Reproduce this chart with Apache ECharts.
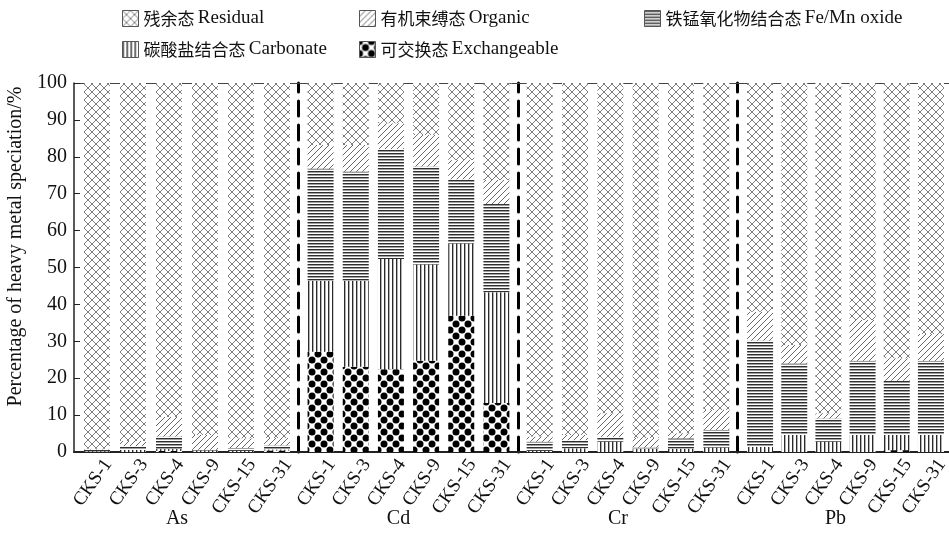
<!DOCTYPE html>
<html>
<head>
<meta charset="utf-8">
<script src="https://cdn.jsdelivr.net/npm/echarts@6/dist/echarts.min.js"></script>
<style>
  html, body { margin: 0; padding: 0; background: #fff; }
  #chart { width: 949px; height: 533px; }
</style>
</head>
<body>
<div id="chart"></div>
<script>
// Samples and metals
const samples = ['CKS-1', 'CKS-3', 'CKS-4', 'CKS-9', 'CKS-15', 'CKS-31'];
const metals = ['As', 'Cd', 'Cr', 'Pb'];
const yTicks = [0, 10, 20, 30, 40, 50, 60, 70, 80, 90, 100];

// Fraction shares (%), six samples per metal in the order As, Cd, Cr, Pb
const exchangeable = [
  0, 0, 0.3, 0, 0, 0.4,
  27.2, 23.1, 22.4, 24.7, 36.9, 13.3,
  0, 0, 0, 0, 0, 0,
  0, 0, 0, 0, 0.5, 0
];
const carbonate = [
  0.2, 0.6, 0.5, 0.4, 0.3, 0.3,
  19.2, 23.3, 29.9, 26.1, 19.6, 30.0,
  0.3, 1.0, 2.8, 0.9, 0.9, 1.2,
  1.4, 4.6, 2.8, 4.6, 4.1, 4.6
];
const feMnOxide = [
  0.5, 1.0, 3.4, 0.2, 0.8, 1.1,
  30.4, 29.6, 29.8, 26.6, 17.4, 23.9,
  2.5, 2.2, 1.3, 0.3, 2.8, 4.8,
  28.8, 19.4, 6.3, 20.1, 14.7, 20.1
];
const organic = [
  0.2, 1.4, 5.3, 4.0, 2.6, 2.0,
  6.4, 7.2, 7.0, 8.5, 5.2, 6.5,
  1.4, 1.4, 6.4, 2.6, 1.4, 5.4,
  7.8, 5.0, 1.4, 11.1, 6.1, 7.3
];
const residual = [
  99.1, 97.0, 90.5, 95.4, 96.3, 96.2,
  16.8, 16.8, 10.9, 14.1, 20.9, 26.3,
  95.8, 95.4, 89.5, 96.2, 94.9, 88.6,
  62.0, 71.0, 89.5, 64.2, 74.6, 68.0
];

const SERIF = '"Liberation Serif", "Times New Roman", "Noto Sans CJK SC", serif';
const CJK = '"Noto Sans CJK SC", "Liberation Serif", sans-serif';

// Fill patterns
function tile(w, h, draw) {
  const c = document.createElement('canvas');
  c.width = w; c.height = h;
  const g = c.getContext('2d');
  g.fillStyle = '#fff';
  g.fillRect(0, 0, w, h);
  draw(g);
  return { image: c, repeat: 'repeat' };
}
const patResidual = tile(8, 8, g => {
  g.strokeStyle = '#7d7d7d'; g.lineWidth = 1;
  g.beginPath();
  g.moveTo(0, 0); g.lineTo(8, 8);
  g.moveTo(8, 0); g.lineTo(0, 8);
  g.stroke();
});
const patOrganic = tile(6, 6, g => {
  g.strokeStyle = '#6a6a6a'; g.lineWidth = 1;
  g.beginPath();
  g.moveTo(0, 6); g.lineTo(6, 0);
  g.moveTo(-1, 1); g.lineTo(1, -1);
  g.moveTo(5, 7); g.lineTo(7, 5);
  g.stroke();
});
const patFeMn = tile(4, 3, g => {
  g.fillStyle = '#2f2f2f'; g.fillRect(0, 0, 4, 1);
  g.fillStyle = '#a0a0a0'; g.fillRect(0, 1, 4, 1);
});
const patCarbonate = tile(4, 4, g => {
  g.fillStyle = '#2a2a2a'; g.fillRect(0, 0, 1, 4);
  g.fillStyle = '#b0b0b0'; g.fillRect(1, 0, 1, 4);
});
const patExchangeable = tile(12, 12, g => {
  g.fillStyle = '#000';
  [[0, 0], [12, 0], [0, 12], [12, 12], [6, 6]].forEach(([x, y]) => {
    g.beginPath(); g.arc(x, y, 3.5, 0, Math.PI * 2); g.fill();
  });
});

const fractions = [
  { name: '可交换态 Exchangeable', values: exchangeable, pat: patExchangeable },
  { name: '碳酸盐结合态 Carbonate', values: carbonate, pat: patCarbonate },
  { name: '铁锰氧化物结合态 Fe/Mn oxide', values: feMnOxide, pat: patFeMn },
  { name: '有机束缚态 Organic', values: organic, pat: patOrganic },
  { name: '残余态 Residual', values: residual, pat: patResidual }
];

// Layout: frame grid, one grid per metal for the bars, and a shifted twin of
// each metal grid that carries the slanted sample labels
const TOP = 83, BOTTOM = 81;
const LABEL_DX = 11;
const groupBoxes = [
  { left: 79, width: 216, divider: null },
  { left: 303, width: 211, divider: 298 },
  { left: 522, width: 212, divider: 518 },
  { left: 743, width: 205, divider: 737 }
];

const grids = [{ left: 74, right: 0, top: TOP, bottom: BOTTOM, outerBoundsMode: 'none' }];
const xAxes = [
  { gridIndex: 0, type: 'value', min: 0, max: 1, position: 'bottom',
    axisLine: { show: true, lineStyle: { color: '#222', width: 2 } },
    axisTick: { show: false }, axisLabel: { show: false }, splitLine: { show: false } },
  { gridIndex: 0, type: 'value', min: 0, max: 1, position: 'top',
    axisLine: { show: true, lineStyle: { color: '#444', width: 1 } },
    axisTick: { show: false }, axisLabel: { show: false }, splitLine: { show: false } }
];
const yAxes = [
  { gridIndex: 0, type: 'value', min: yTicks[0], max: yTicks[yTicks.length - 1], interval: 10,
    name: 'Percentage of heavy metal speciation/%',
    nameLocation: 'middle', nameGap: 47,
    nameTextStyle: { fontFamily: SERIF, fontSize: 20, color: '#111', padding: [0, 0, 0, 42] },
    axisLine: { show: true, lineStyle: { color: '#222', width: 1.5 } },
    axisTick: { show: true, inside: true, length: 6, lineStyle: { color: '#222' } },
    axisLabel: { fontFamily: SERIF, fontSize: 20, color: '#111', margin: 7 },
    splitLine: { show: false } }
];
const series = [];

metals.forEach((metal, m) => {
  const box = groupBoxes[m];
  // bar grid
  const gi = grids.length;
  grids.push({ left: box.left, width: box.width, top: TOP, bottom: BOTTOM, outerBoundsMode: 'none' });
  const xi = xAxes.length;
  xAxes.push({
    gridIndex: gi, type: 'category', data: samples,
    name: metal, nameLocation: 'middle', nameGap: 57, nameMoveOverlap: false,
    nameTextStyle: { fontFamily: SERIF, fontSize: 20, color: '#111', padding: [0, 20, 0, 0] },
    axisLine: { show: false }, axisTick: { show: false }, axisLabel: { show: false }
  });
  const yi = yAxes.length;
  yAxes.push({
    gridIndex: gi, type: 'value', min: 0, max: 100, interval: 10,
    offset: box.divider === null ? 0 : box.left - box.divider,
    axisLine: { show: box.divider !== null, lineStyle: { color: '#000', width: 3, type: [15, 9] } },
    axisTick: { show: false }, axisLabel: { show: false }, splitLine: { show: false }
  });
  fractions.forEach(f => {
    series.push({
      type: 'bar', name: f.name, stack: 'metal' + m,
      xAxisIndex: xi, yAxisIndex: yi,
      barWidth: 26,
      itemStyle: { color: f.pat },
      emphasis: { disabled: true },
      data: f.values.slice(m * samples.length, (m + 1) * samples.length)
    });
  });
  // label twin grid
  const li = grids.length;
  grids.push({ left: box.left + LABEL_DX, width: box.width, top: TOP, bottom: BOTTOM, outerBoundsMode: 'none' });
  xAxes.push({
    gridIndex: li, type: 'category', data: samples,
    axisLine: { show: false }, axisTick: { show: false },
    axisLabel: { interval: 0, rotate: 55, fontFamily: SERIF, fontSize: 19, color: '#111', margin: 9 }
  });
  yAxes.push({ gridIndex: li, type: 'value', min: 0, max: 100, show: false });
});

// Legend text: Chinese part and English part set in separate faces
function legendText(name) {
  const k = name.indexOf(' ');
  return '{c|' + name.slice(0, k) + '} {e|' + name.slice(k + 1) + '}';
}
const legendBase = {
  orient: 'vertical', top: 4, itemWidth: 16, itemHeight: 16, itemGap: 12,
  icon: 'rect',
  itemStyle: { borderColor: '#555', borderWidth: 1 },
  formatter: legendText,
  textStyle: {
    color: '#111', lineHeight: 16,
    rich: {
      c: { fontFamily: CJK, fontSize: 17, color: '#111', lineHeight: 16, verticalAlign: 'middle' },
      e: { fontFamily: SERIF, fontSize: 19, color: '#111', lineHeight: 16, verticalAlign: 'middle' }
    }
  },
  selectedMode: false
};

const chart = echarts.init(document.getElementById('chart'), null, { renderer: 'canvas' });
chart.setOption({
  animation: false,
  backgroundColor: '#fff',
  legend: [
    Object.assign({}, legendBase, { left: 117, data: ['残余态 Residual', '碳酸盐结合态 Carbonate'] }),
    Object.assign({}, legendBase, { left: 354, data: ['有机束缚态 Organic', '可交换态 Exchangeable'] }),
    Object.assign({}, legendBase, { left: 639, data: ['铁锰氧化物结合态 Fe/Mn oxide'] })
  ],
  grid: grids,
  xAxis: xAxes,
  yAxis: yAxes,
  series: series
});
</script>
</body>
</html>
